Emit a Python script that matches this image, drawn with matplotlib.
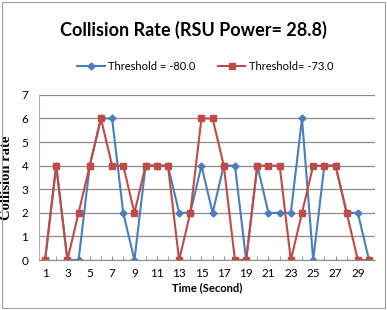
import matplotlib
matplotlib.use('Agg')
import matplotlib.pyplot as plt
from matplotlib.patches import Rectangle

time = list(range(1, 31))
thr_80 = [0, 4, 0, 0, 4, 6, 6, 2, 0, 4, 4, 4, 2, 2, 4, 2, 4, 4, 0, 4,
          2, 2, 2, 6, 0, 4, 4, 2, 2, 0]
thr_73 = [0, 4, 0, 2, 4, 6, 4, 4, 2, 4, 4, 4, 0, 2, 6, 6, 4, 0, 0, 4,
          4, 4, 0, 2, 4, 4, 4, 2, 0, 0]
labels = ['Threshold = -80.0', 'Threshold= -73.0']
title = 'Collision Rate (RSU Power= 28.8)'

narrow = ['Lato', 'DejaVu Sans']

fig = plt.figure(figsize=(3.87, 3.10), dpi=100)
fig.patches.append(Rectangle((0.005, 0.008), 0.99, 0.984, transform=fig.transFigure,
                             fill=False, edgecolor='#a0a0a0', linewidth=0.8))
ax = fig.add_axes([0.102, 0.161, 0.866, 0.533])

ax.plot(time, thr_80, color='#4a7ebb', marker='D', markersize=3.5, linewidth=1.5,
        label=labels[0])
ax.plot(time, thr_73, color='#be4b48', marker='s', markersize=5, linewidth=1.5,
        label=labels[1])

ax.set_xlim(0.5, 30.5)
ax.set_ylim(0, 7)
ax.set_yticks(range(0, 8))
ax.set_xticks(range(1, 31, 2))
ax.set_xticks(range(1, 31), minor=True)
ax.grid(axis='y', color='#8c8c8c', linewidth=0.9)
ax.set_axisbelow(True)
for s in ['top', 'right']:
    ax.spines[s].set_visible(False)
ax.spines['left'].set_color('#b0b0b0')
ax.spines['bottom'].set_color('#8c8c8c')
ax.tick_params(axis='y', length=0, labelsize=8.5, pad=8)
ax.tick_params(axis='x', which='both', length=3, direction='in', color='#8c8c8c',
               labelsize=8.5, pad=6)
for t in ax.get_xticklabels() + ax.get_yticklabels():
    t.set_family(narrow)

ax.set_xlabel('Time (Second)', fontsize=8, fontweight='bold', family=narrow, labelpad=2)
ax.set_ylabel('Collision rate', fontsize=10.5, fontweight='bold', family='Liberation Serif',
              labelpad=6)
fig.text(0.5, 0.905, title, ha='center', va='center', fontsize=13, fontweight='bold',
         family=narrow)
fig.legend(loc='center', bbox_to_anchor=(0.53, 0.787), ncol=2, frameon=False,
           prop={'family': narrow, 'size': 8}, handlelength=2.5, handletextpad=0.3,
           columnspacing=2.0)

fig.savefig('out.png', dpi=100)
